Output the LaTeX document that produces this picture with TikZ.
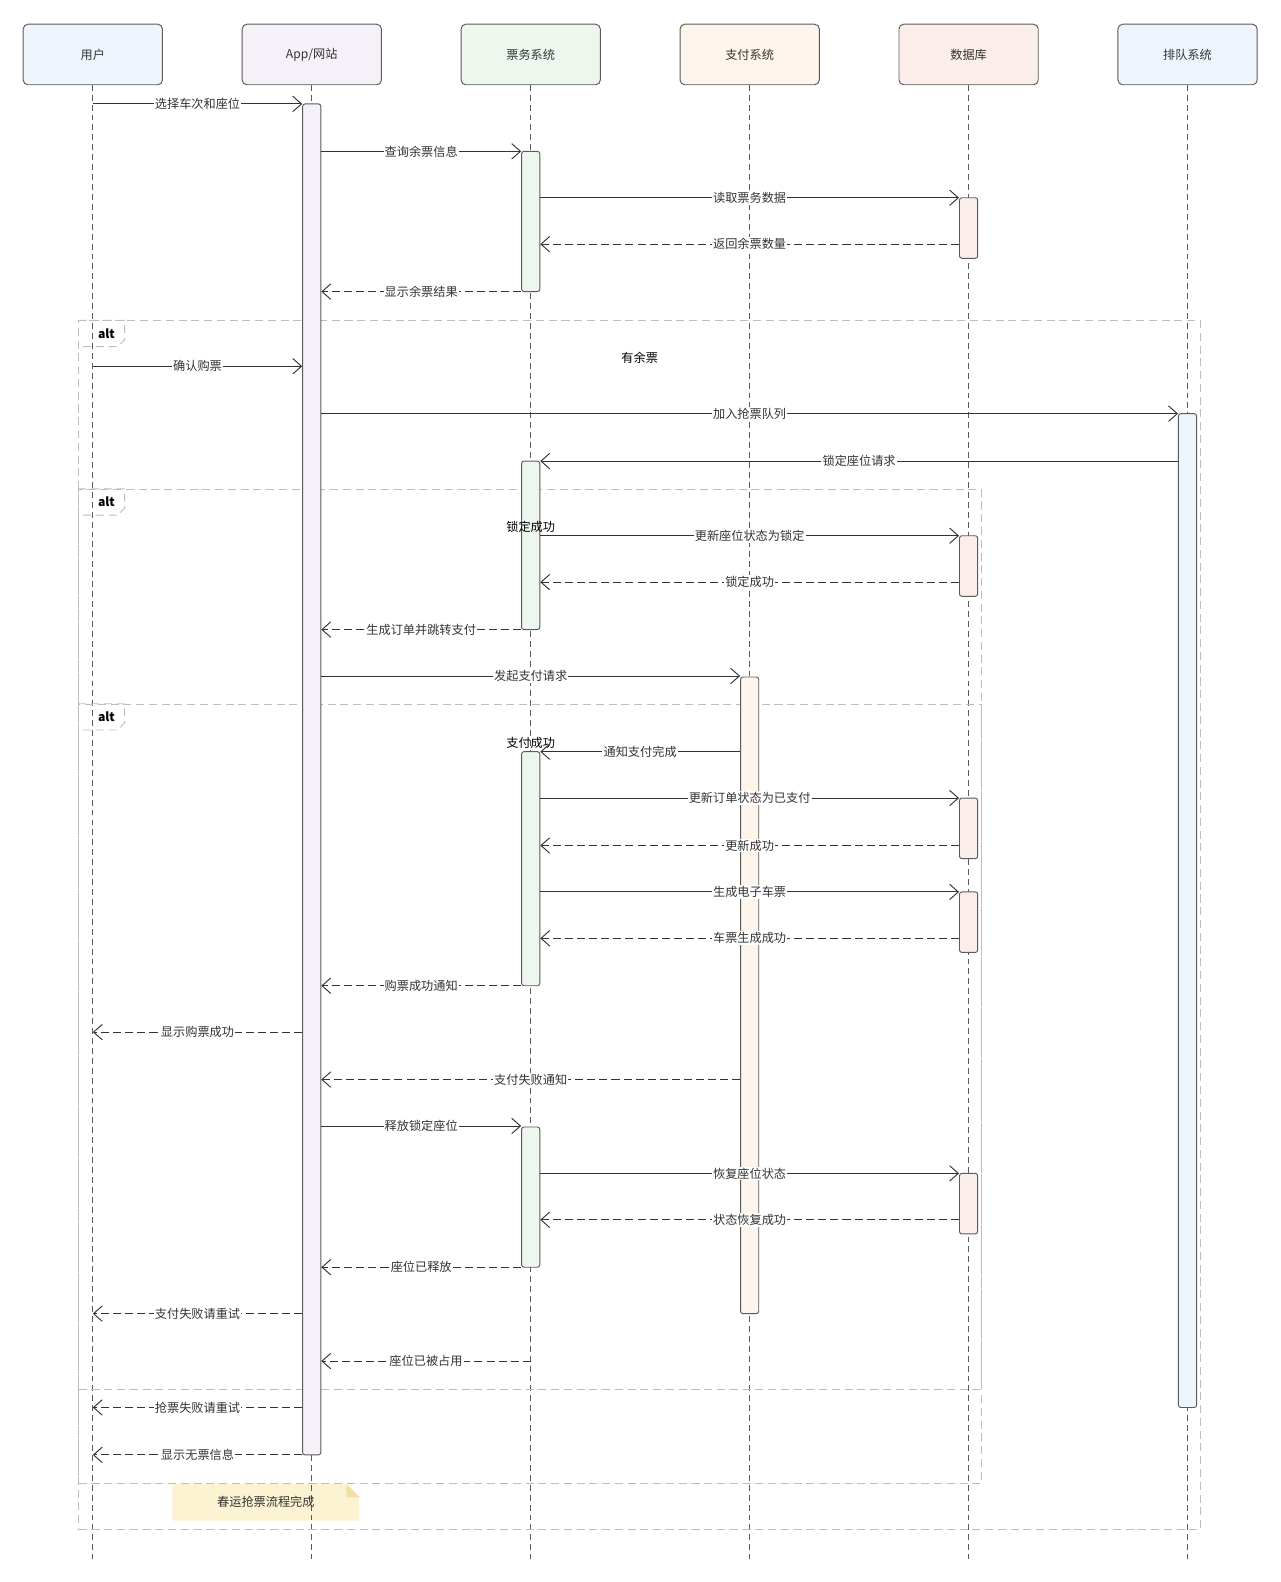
\documentclass[tikz,border=0pt]{standalone}
\usepackage{fontspec}
\setmainfont{Noto Sans CJK SC}
\usepackage{tikz}
\usetikzlibrary{arrows.meta,backgrounds,fit,positioning}
\definecolor{ink}{HTML}{333333}
\definecolor{edge}{HTML}{5A5A5A}
\definecolor{framegray}{HTML}{BDBDBD}
\definecolor{userblue}{HTML}{EEF5FD}
\definecolor{applilac}{HTML}{F6F1F8}
\definecolor{ticketgreen}{HTML}{EEF7EE}
\definecolor{paypeach}{HTML}{FDF4EC}
\definecolor{dbpink}{HTML}{FBEDEA}
\definecolor{queueblue}{HTML}{EEF5FD}
\definecolor{notefill}{HTML}{FCF3D2}
\definecolor{notefold}{HTML}{F1DFA4}
\tikzset{
  >={Straight Barb[length=2.6mm,width=4.6mm]},
  actor/.style={draw=edge,line width=0.8pt,rounded corners=4pt,outer sep=0pt,
                minimum width=4.14cm,minimum height=1.8cm,
                font=\fontsize{10.3}{12}\selectfont,text=ink},
  lifeline/.style={draw=edge,line width=0.8pt,dash pattern=on 5pt off 3.4pt},
  bar/.style={draw=edge,line width=0.8pt,rounded corners=2pt,inner sep=0pt},
  msg/.style={->,draw=ink,line width=0.8pt},
  reply/.style={msg,dash pattern=on 6.8pt off 3.4pt},
  lbl/.style={fill=white,inner xsep=1pt,inner ysep=1pt,
              font=\fontsize{10.3}{12}\selectfont,text=ink},
  frame/.style={draw=framegray,line width=0.8pt,dash pattern=on 6.8pt off 4pt,inner sep=0pt},
  guard/.style={font=\fontsize{10.3}{12}\selectfont,text=black},
  tagtext/.style={font=\fontsize{10.3}{12}\selectfont\bfseries,text=black},
  notebox/.style={minimum width=5.55cm,minimum height=1.08cm,inner sep=0pt,
                  font=\fontsize{10.3}{12}\selectfont,text=ink}
}
% tab in the top left corner of an alt frame
\newcommand{\alttab}[1]{%
  \draw[frame] (#1.north west) -- ++(46,0) -- ++(0,19) -- ++(-7,7) -- ++(-39,0);
  \node[tagtext] (#1tag) at ([xshift=0.84cm,yshift=-0.39cm]#1.north west) {alt};}

\begin{document}
\begin{tikzpicture}[x=0.03cm,y=-0.03cm]
  \useasboundingbox (0,0) rectangle (1269,1568);
  % participants
  \node[actor,fill=userblue] (user) at (92,54) {用户};
  \node[actor,fill=applilac,right=2.37cm of user] (app) {App/网站};
  \node[actor,fill=ticketgreen,right=2.37cm of app] (ticket) {票务系统};
  \node[actor,fill=paypeach,right=2.37cm of ticket] (pay) {支付系统};
  \node[actor,fill=dbpink,right=2.37cm of pay] (db) {数据库};
  \node[actor,fill=queueblue,right=2.37cm of db] (queue) {排队系统};
  \coordinate (bottom) at (0,1545);
  \foreach \p in {user,app,ticket,pay,db,queue}
    \draw[lifeline] (\p.south) -- (\p.south |- bottom);

  % alt frames
  \node[frame,fit={(78,318) (1190,1516)}] (altq) {};
  \node[frame,fit={(78,485) (973,1470)}] (altlock) {};
  \node[frame,fit={(78,698) (973,1377)}] (altpay) {};
  \alttab{altq}
  \alttab{altlock}
  \alttab{altpay}
  \node[guard] (gq) at (634,355) {有余票};

  % activation bars
  \node[bar,fill=applilac,fit={(300,103) (318,1442)}] (appbar) {};
  \node[bar,fill=ticketgreen,fit={(517,150) (535,289)}] (tbar1) {};
  \node[bar,fill=ticketgreen,fit={(517,457) (535,624)}] (tbar2) {};
  \node[bar,fill=ticketgreen,fit={(517,745) (535,977)}] (tbar3) {};
  \node[bar,fill=ticketgreen,fit={(517,1117) (535,1256)}] (tbar4) {};
  \node[bar,fill=paypeach,fit={(734,671) (752,1302)}] (paybar) {};
  \node[bar,fill=dbpink,fit={(951,196) (969,256)}] (dbbar1) {};
  \node[bar,fill=dbpink,fit={(951,531) (969,591)}] (dbbar2) {};
  \node[bar,fill=dbpink,fit={(951,791) (969,851)}] (dbbar3) {};
  \node[bar,fill=dbpink,fit={(951,884) (969,944)}] (dbbar4) {};
  \node[bar,fill=dbpink,fit={(951,1163) (969,1223)}] (dbbar5) {};
  \node[bar,fill=queueblue,fit={(1168,410) (1186,1395)}] (qbar) {};
  \node[guard] (glock) at (526,522) {锁定成功};
  \node[guard] (gpay) at (526,736) {支付成功};

  % message rows
  \foreach \i/\y in {1/103,2/150,3/196,4/242,5/289,6/363,7/410,8/457,9/531,10/577,
                     11/624,12/670,13/745,14/791,15/838,16/884,17/930,18/977,19/1023,
                     20/1070,21/1116,22/1163,23/1209,24/1256,25/1302,26/1349,27/1395,28/1442}
    \coordinate (r\i) at (0,\y);

  \draw[msg] (user |- r1) -- node[lbl]{选择车次和座位} (appbar.west |- r1);
  \draw[msg] (appbar.east |- r2) -- node[lbl]{查询余票信息} (tbar1.west |- r2);
  \draw[msg] (tbar1.east |- r3) -- node[lbl]{读取票务数据} (dbbar1.west |- r3);
  \draw[reply] (dbbar1.west |- r4) -- node[lbl]{返回余票数量} (tbar1.east |- r4);
  \draw[reply] (tbar1.west |- r5) -- node[lbl]{显示余票结果} (appbar.east |- r5);
  \draw[msg] (user |- r6) -- node[lbl]{确认购票} (appbar.west |- r6);
  \draw[msg] (appbar.east |- r7) -- node[lbl]{加入抢票队列} (qbar.west |- r7);
  \draw[msg] (qbar.west |- r8) -- node[lbl]{锁定座位请求} (tbar2.east |- r8);
  \draw[msg] (tbar2.east |- r9) -- node[lbl]{更新座位状态为锁定} (dbbar2.west |- r9);
  \draw[reply] (dbbar2.west |- r10) -- node[lbl]{锁定成功} (tbar2.east |- r10);
  \draw[reply] (tbar2.west |- r11) -- node[lbl]{生成订单并跳转支付} (appbar.east |- r11);
  \draw[msg] (appbar.east |- r12) -- node[lbl]{发起支付请求} (paybar.west |- r12);
  \draw[msg] (paybar.west |- r13) -- node[lbl]{通知支付完成} (tbar3.east |- r13);
  \draw[msg] (tbar3.east |- r14) -- node[lbl]{更新订单状态为已支付} (dbbar3.west |- r14);
  \draw[reply] (dbbar3.west |- r15) -- node[lbl]{更新成功} (tbar3.east |- r15);
  \draw[msg] (tbar3.east |- r16) -- node[lbl]{生成电子车票} (dbbar4.west |- r16);
  \draw[reply] (dbbar4.west |- r17) -- node[lbl]{车票生成成功} (tbar3.east |- r17);
  \draw[reply] (tbar3.west |- r18) -- node[lbl]{购票成功通知} (appbar.east |- r18);
  \draw[reply] (appbar.west |- r19) -- node[lbl]{显示购票成功} (user |- r19);
  \draw[reply] (paybar.west |- r20) -- node[lbl]{支付失败通知} (appbar.east |- r20);
  \draw[msg] (appbar.east |- r21) -- node[lbl]{释放锁定座位} (tbar4.west |- r21);
  \draw[msg] (tbar4.east |- r22) -- node[lbl]{恢复座位状态} (dbbar5.west |- r22);
  \draw[reply] (dbbar5.west |- r23) -- node[lbl]{状态恢复成功} (tbar4.east |- r23);
  \draw[reply] (tbar4.west |- r24) -- node[lbl]{座位已释放} (appbar.east |- r24);
  \draw[reply] (appbar.west |- r25) -- node[lbl]{支付失败请重试} (user |- r25);
  \draw[reply] (ticket |- r26) -- node[lbl]{座位已被占用} (appbar.east |- r26);
  \draw[reply] (appbar.west |- r27) -- node[lbl]{抢票失败请重试} (user |- r27);
  \draw[reply] (appbar.west |- r28) -- node[lbl]{显示无票信息} (user |- r28);

  % closing note
  \node[notebox] (note) at (263.5,1489) {春运抢票流程完成};
  \begin{scope}[on background layer]
    \fill[notefill] (note.north west) -- ([xshift=-0.39cm]note.north east)
      -- ([yshift=-0.39cm]note.north east) -- (note.south east) -- (note.south west) -- cycle;
    \fill[notefold] ([xshift=-0.39cm]note.north east) -- ([xshift=-0.39cm,yshift=-0.39cm]note.north east)
      -- ([yshift=-0.39cm]note.north east) -- cycle;
  \end{scope}
\end{tikzpicture}
\end{document}
